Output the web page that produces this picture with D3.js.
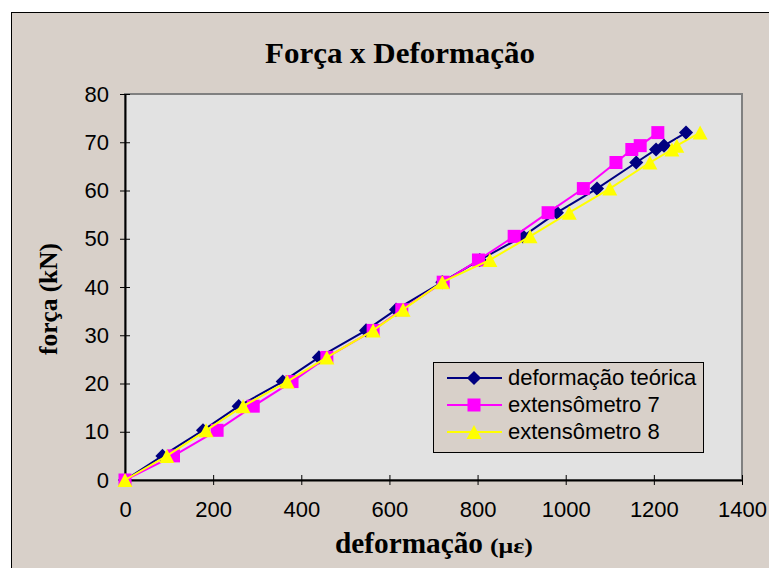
<!DOCTYPE html>
<html><head><meta charset="utf-8">
<script src="https://cdn.jsdelivr.net/npm/d3@7"></script>
<style>body{margin:0;background:#fff}svg{display:block}</style>
</head><body>
<svg id="c" width="769" height="568"></svg>
<script>
const forca = [0, 5, 10.3, 15.3, 20.4, 25.4, 31, 35.3, 41, 45.6, 50.5, 55.4, 60.4, 65.8, 68.5, 69.3, 72];
const teorica = [0, 85, 177, 258, 358, 440, 547, 615, 720, 805, 903, 980, 1071, 1160, 1205, 1223, 1273];
const ext7 = [0, 110, 209, 291, 379, 458, 563, 628, 722, 802, 883, 960, 1040, 1114, 1150, 1169, 1209];
const ext8 = [0, 95, 184, 268, 368, 458, 563, 631, 720, 828, 919, 1008, 1100, 1191, 1241, 1252, 1305];
const seriesNames = ["deformação teórica", "extensômetro 7", "extensômetro 8"];
const xTicks = [0, 200, 400, 600, 800, 1000, 1200, 1400];
const yTicks = [0, 10, 20, 30, 40, 50, 60, 70, 80];

const svg = d3.select("#c");
const L = 125, R = 742, T = 94, B = 480;
const x = d3.scaleLinear().domain([0, 1400]).range([L, R]);
const y = d3.scaleLinear().domain([0, 80]).range([B, T]);

// outer chart area
svg.append("rect").attr("x", 11.5).attr("y", 12.5).attr("width", 770).attr("height", 570)
  .attr("fill", "#d8d0c9").attr("stroke", "#000").attr("stroke-width", 1);
// plot area
svg.append("rect").attr("x", L).attr("y", T).attr("width", R - L).attr("height", B - T)
  .attr("fill", "#e2e2e2").attr("stroke", "#808080").attr("stroke-width", 2);

// title
svg.append("text").attr("x", 400).attr("y", 63).attr("text-anchor", "middle")
  .attr("font-family", "Liberation Serif").attr("font-weight", "bold").attr("font-size", 30)
  .attr("textLength", 270).attr("lengthAdjust", "spacingAndGlyphs")
  .text("Força x Deformação");

// axes
const xAxis = d3.axisBottom(x).tickValues(xTicks).tickSize(5).tickSizeOuter(0).tickPadding(16).tickFormat(d3.format("d"));
const gx = svg.append("g").attr("transform", `translate(0,${B})`).call(xAxis);
gx.selectAll(".tick line").attr("y1", -5).attr("y2", 5).attr("stroke", "#000");
gx.select(".domain").attr("stroke", "#000").attr("stroke-width", 2);
gx.selectAll("text").attr("font-family", "Liberation Sans").attr("font-size", 22).attr("fill", "#000");

const yAxis = d3.axisLeft(y).tickValues(yTicks).tickSize(5).tickSizeOuter(0).tickPadding(11);
const gy = svg.append("g").attr("transform", `translate(${L},0)`).call(yAxis);
gy.selectAll(".tick line").attr("x1", -5).attr("x2", 5).attr("stroke", "#000");
gy.select(".domain").attr("stroke", "#000").attr("stroke-width", 2);
gy.selectAll("text").attr("font-family", "Liberation Sans").attr("font-size", 22).attr("fill", "#000");

// axis labels
svg.append("text").attr("transform", "translate(57,299) rotate(-90)").attr("text-anchor", "middle")
  .attr("font-family", "Liberation Serif").attr("font-weight", "bold").attr("font-size", 26)
  .attr("textLength", 112).attr("lengthAdjust", "spacingAndGlyphs")
  .text("força (kN)");
svg.append("text").attr("x", 335).attr("y", 553)
  .attr("font-family", "Liberation Serif").attr("font-weight", "bold").attr("font-size", 29)
  .attr("textLength", 148).attr("lengthAdjust", "spacingAndGlyphs")
  .text("deformação");
svg.append("text").attr("x", 490).attr("y", 553)
  .attr("font-family", "Liberation Serif").attr("font-weight", "bold").attr("font-size", 22)
  .attr("textLength", 43).attr("lengthAdjust", "spacingAndGlyphs")
  .text("(με)");

// custom symbols
const diamond = { draw(ctx, size) { const r = Math.sqrt(size / 2);
  ctx.moveTo(0, -r); ctx.lineTo(r, 0); ctx.lineTo(0, r); ctx.lineTo(-r, 0); ctx.closePath(); } };
const square = { draw(ctx, size) { const h = Math.sqrt(size) / 2;
  ctx.rect(-h, -h, 2 * h, 2 * h); } };
const triangle = { draw(ctx, size) { const h = Math.sqrt(size) / 2;
  ctx.moveTo(0, -h); ctx.lineTo(h * 1.07, h); ctx.lineTo(-h * 1.07, h); ctx.closePath(); } };

// series
const colors = ["#000080", "#ff00ff", "#ffff00"];
const symbols = [diamond, square, triangle];
const sizes = [100, 169, 196];
const allX = [teorica, ext7, ext8];
const line = d3.line().x(d => x(d[0])).y(d => y(d[1]));

allX.forEach((xs, i) => {
  const pts = xs.map((v, j) => [v, forca[j]]);
  const g = svg.append("g");
  g.append("path").attr("d", line(pts)).attr("fill", "none").attr("stroke", colors[i]).attr("stroke-width", 2);
  g.selectAll("path.m").data(pts).enter().append("path").attr("class", "m")
    .attr("d", d3.symbol().type(symbols[i]).size(sizes[i]))
    .attr("transform", d => `translate(${x(d[0])},${y(d[1])})`)
    .attr("fill", colors[i]);
});

// legend
const lg = svg.append("g");
lg.append("rect").attr("x", 433.5).attr("y", 362.5).attr("width", 270).attr("height", 90)
  .attr("fill", "#d8d0c9").attr("stroke", "#000").attr("stroke-width", 1);
seriesNames.forEach((n, i) => {
  const yy = 378 + i * 27;
  lg.append("line").attr("x1", 447).attr("x2", 502).attr("y1", yy).attr("y2", yy)
    .attr("stroke", colors[i]).attr("stroke-width", 2);
  lg.append("path").attr("d", d3.symbol().type(symbols[i]).size(sizes[i])())
    .attr("transform", `translate(474,${yy})`).attr("fill", colors[i]);
  lg.append("text").attr("x", 508).attr("y", yy + 7).attr("font-family", "Liberation Sans")
    .attr("font-size", 22).attr("fill", "#000").text(n);
});
</script>
</body></html>
